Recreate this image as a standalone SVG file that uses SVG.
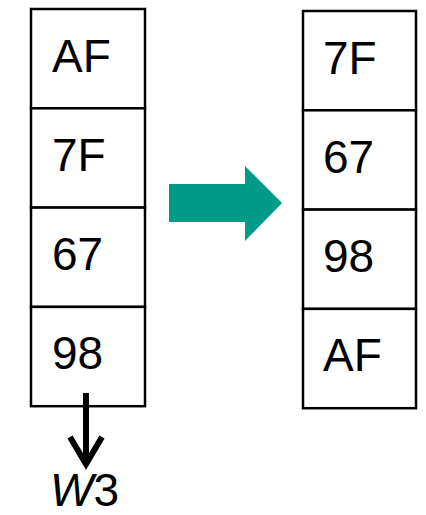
<svg xmlns="http://www.w3.org/2000/svg" width="426" height="515" viewBox="0 0 426 515">
<style>
.cell{fill:#fff;stroke:#000;stroke-width:2.5}
.t{font-family:"Liberation Sans",Arial,sans-serif;font-size:46px;fill:#000}
</style>
<rect width="426" height="515" fill="#fff"/>
<g id="left-AF"><rect class="cell" x="31" y="9" width="114" height="99.3"/><text class="t" x="52" y="72">AF</text></g>
<g id="left-7F"><rect class="cell" x="31" y="108.3" width="114" height="99.3"/><text class="t" x="52" y="171">7F</text></g>
<g id="left-67"><rect class="cell" x="31" y="207.6" width="114" height="99.3"/><text class="t" x="52" y="270">67</text></g>
<g id="left-98"><rect class="cell" x="31" y="306.9" width="114" height="99.3"/><text class="t" x="52" y="369">98</text></g>
<g id="right-7F"><rect class="cell" x="303" y="11" width="113" height="99.3"/><text class="t" x="323" y="74">7F</text></g>
<g id="right-67"><rect class="cell" x="303" y="110.3" width="113" height="99.3"/><text class="t" x="323" y="173">67</text></g>
<g id="right-98"><rect class="cell" x="303" y="209.6" width="113" height="99.3"/><text class="t" x="323" y="272">98</text></g>
<g id="right-AF"><rect class="cell" x="303" y="308.9" width="113" height="99.3"/><text class="t" x="323" y="371">AF</text></g>
<g id="connectors">
<polygon points="169,184 245,184 245,166 282,203 245,241 245,222 169,222" fill="#009a88"/>
<line x1="86" y1="393" x2="86" y2="462" stroke="#000" stroke-width="6"/>
<polyline points="70,437 86,464 102,437" fill="none" stroke="#000" stroke-width="6"/>
</g>
<g id="label-W3"><text class="t" x="50" y="506" font-size="44"><tspan font-style="italic">W</tspan>3</text></g>
</svg>
